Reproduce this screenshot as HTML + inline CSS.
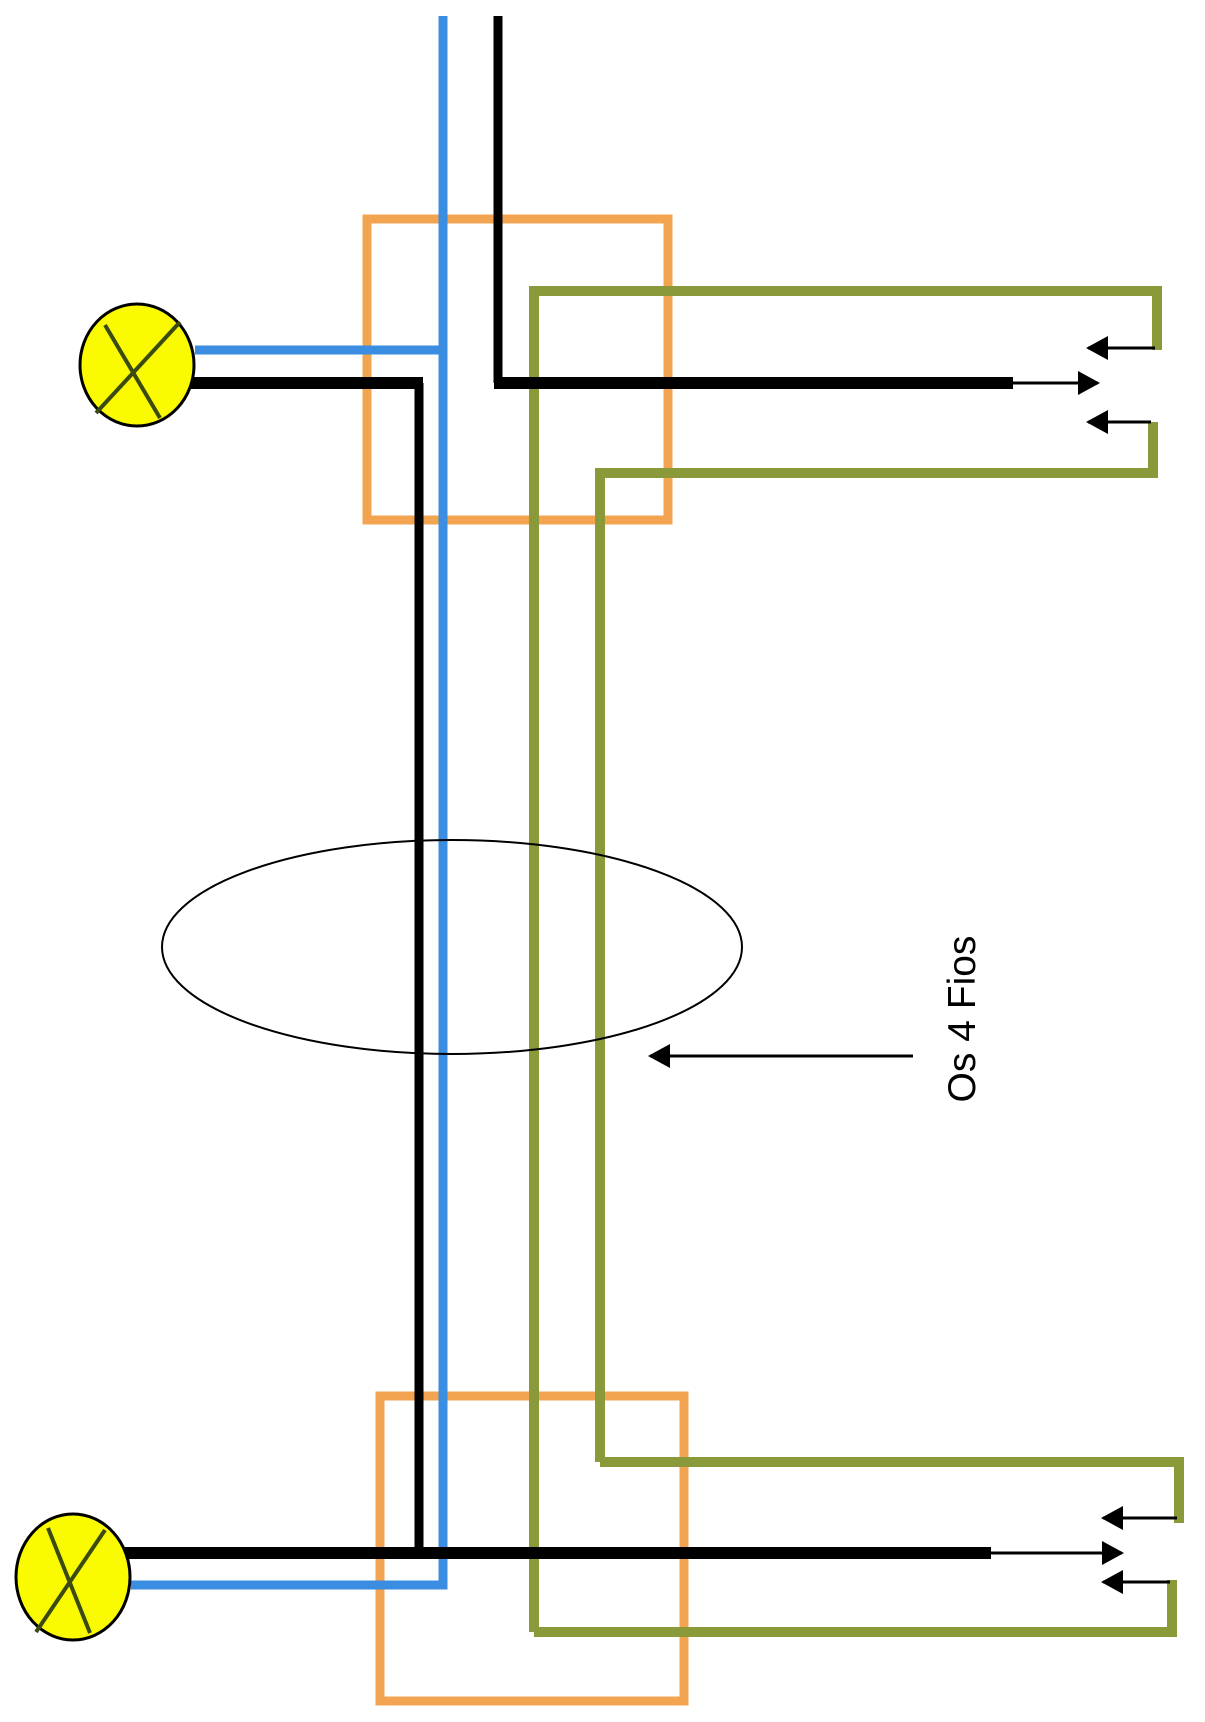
<!DOCTYPE html>
<html><head><meta charset="utf-8"><style>html,body{margin:0;padding:0;background:#fff}svg{display:block}</style></head>
<body>
<svg width="1205" height="1722" viewBox="0 0 1205 1722" xmlns="http://www.w3.org/2000/svg">
<defs>
<marker id="ah2" markerWidth="22" markerHeight="24" refX="20" refY="12" orient="auto" markerUnits="userSpaceOnUse" viewBox="0 0 22 24">
<path d="M0,0 L22,12 L0,24 z" fill="#000"/></marker>
</defs>
<g fill="none" stroke="#f2a450" stroke-width="9">
<rect x="367" y="219" width="301" height="301"/>
<rect x="380" y="1396" width="304" height="305"/>
</g>
<g fill="none" stroke="#8a9a3a" stroke-width="10">
<polyline points="534,1632 534,291 1157,291 1157,350"/>
<polyline points="600,1462 600,473 1153,473 1153,422"/>
<polyline points="600,1462 1179,1462 1179,1523"/>
<polyline points="534,1632 1172,1632 1172,1580"/>
</g>
<g fill="none" stroke="#3a8de0" stroke-width="9">
<polyline points="443,16 443,1585 131,1585"/>
<polyline points="195,350 443,350"/>
</g>
<g fill="none" stroke="#000" stroke-width="9">
<polyline points="498,16 498,383"/>
<polyline points="419,383 419,1553"/>
</g>
<g fill="none" stroke="#000" stroke-width="12">
<line x1="494" y1="383" x2="1013" y2="383"/>
<line x1="185" y1="383" x2="423" y2="383"/>
<line x1="125" y1="1553" x2="991" y2="1553"/>
</g>
<g stroke="#000" stroke-width="3" fill="none">
<line x1="1013" y1="383" x2="1098" y2="383" marker-end="url(#ah2)"/>
<line x1="991" y1="1553" x2="1122" y2="1553" marker-end="url(#ah2)"/>
<line x1="1155" y1="348" x2="1088" y2="348" marker-end="url(#ah2)"/>
<line x1="1151" y1="422" x2="1088" y2="422" marker-end="url(#ah2)"/>
<line x1="1177" y1="1518" x2="1103" y2="1518" marker-end="url(#ah2)"/>
<line x1="1170" y1="1582" x2="1103" y2="1582" marker-end="url(#ah2)"/>
<line x1="913" y1="1056" x2="650" y2="1056" marker-end="url(#ah2)"/>
</g>
<ellipse cx="452" cy="947" rx="290" ry="107" fill="none" stroke="#000" stroke-width="2"/>
<g stroke="#000" stroke-width="3">
<ellipse cx="137" cy="365" rx="57" ry="61" fill="#fafa00"/>
<ellipse cx="73" cy="1577" rx="57" ry="63" fill="#fafa00"/>
</g>
<g stroke="#3a4a10" stroke-width="4">
<line x1="105" y1="325" x2="160" y2="418"/><line x1="180" y1="322" x2="96" y2="413"/>
<line x1="48" y1="1528" x2="90" y2="1633"/><line x1="105" y1="1530" x2="36" y2="1632"/>
</g>
<text transform="translate(975,1019) rotate(-90)" text-anchor="middle" font-family="Liberation Sans, sans-serif" font-size="39" fill="#000">Os 4 Fios</text>
</svg>
</body></html>
